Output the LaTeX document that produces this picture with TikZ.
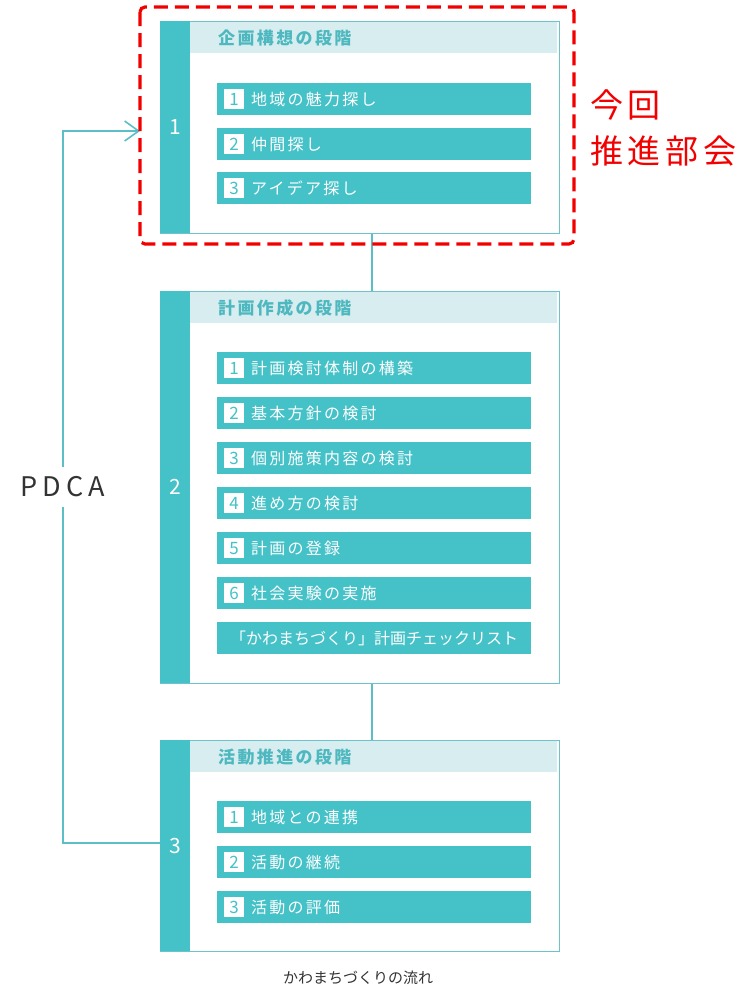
\documentclass[tikz,border=0pt]{standalone}
\usepackage{fontspec}
\setmainfont{Noto Sans CJK JP}
\newfontfamily\titlefont[LetterSpace=14]{Noto Sans CJK JP}
\newfontfamily\itemfont[LetterSpace=14]{Noto Sans CJK JP}
\newfontfamily\redfont[LetterSpace=14]{Noto Sans CJK JP}
\usetikzlibrary{arrows.meta}
\definecolor{tealmain}{HTML}{45C1C8}
\definecolor{headbg}{HTML}{D8EDEF}
\definecolor{titlecol}{HTML}{4DB8BF}
\definecolor{outl}{HTML}{6CC3C9}
\definecolor{linecol}{HTML}{5BBFC5}
\definecolor{hlred}{HTML}{F20000}
\definecolor{captxt}{HTML}{333333}
\newcommand\stageitem[4]{%
  \node[itembox] (#1) at (217,#2) {};
  \node[numsq] (#1n) at ([xshift=17pt]#1.west) {#3};
  \node[itemtext] (#1t) at ([xshift=34pt]#1.west) {#4};
}
\begin{document}
\begin{tikzpicture}[x=1pt,y=-1pt,
  stagebox/.style={draw=outl, line width=1.3pt, fill=white, minimum width=399pt, inner sep=0pt, anchor=north west},
  stagebar/.style={fill=tealmain, minimum width=30pt, inner sep=0pt, anchor=north west, text=white, font=\fontsize{21}{21}\selectfont},
  headband/.style={fill=headbg, minimum width=367pt, minimum height=31pt, inner sep=0pt, anchor=north west},
  stagetitle/.style={anchor=west, inner sep=0pt, text=titlecol, font=\titlefont\bfseries\fontsize{17}{17}\selectfont},
  itembox/.style={fill=tealmain, minimum width=314pt, minimum height=32pt, inner sep=0pt, anchor=north west},
  numsq/.style={fill=white, minimum width=20pt, minimum height=20pt, inner sep=0pt, text=tealmain, font=\fontsize{17}{17}\selectfont},
  itemtext/.style={anchor=west, inner sep=0pt, text=white, font=\itemfont\fontsize{16}{16}\selectfont},
  conn/.style={draw=linecol, line width=1.6pt},
  redtxt/.style={anchor=west, inner sep=0pt, text=hlred, font=\redfont\fontsize{33}{33}\selectfont}
]
\useasboundingbox (0,0) rectangle (753,988);

% ---------- stage 1
\node[stagebox, minimum height=212pt] (s1) at (160,21) {};
\node[stagebar, minimum height=212pt] (b1) at (160,21) {1};
\node[headband] (h1) at (190,22) {};
\node[stagetitle] (t1) at (218,38) {企画構想の段階};
\stageitem{i11}{83}{1}{地域の魅力探し}
\stageitem{i12}{128}{2}{仲間探し}
\stageitem{i13}{172}{3}{アイデア探し}

% ---------- stage 2
\node[stagebox, minimum height=392pt] (s2) at (160,291) {};
\node[stagebar, minimum height=392pt] (b2) at (160,291) {2};
\node[headband] (h2) at (190,292) {};
\node[stagetitle] (t2) at (218,308) {計画作成の段階};
\stageitem{i21}{352}{1}{計画検討体制の構築}
\stageitem{i22}{397}{2}{基本方針の検討}
\stageitem{i23}{442}{3}{個別施策内容の検討}
\stageitem{i24}{487}{4}{進め方の検討}
\stageitem{i25}{532}{5}{計画の登録}
\stageitem{i26}{577}{6}{社会実験の実施}
\node[itembox, text=white, font=\fontsize{16}{16}\selectfont] (i27) at (217,622) {「かわまちづくり」計画チェックリスト};

% ---------- stage 3
\node[stagebox, minimum height=211pt] (s3) at (160,740) {};
\node[stagebar, minimum height=211pt] (b3) at (160,740) {3};
\node[headband] (h3) at (190,741) {};
\node[stagetitle] (t3) at (218,757) {活動推進の段階};
\stageitem{i31}{801}{1}{地域との連携}
\stageitem{i32}{846}{2}{活動の継続}
\stageitem{i33}{891}{3}{活動の評価}

% ---------- connectors between stages
\coordinate (cx) at (372,0);
\draw[conn] (s1.south -| cx) -- (s2.north -| cx);
\draw[conn] (s2.south -| cx) -- (s3.north -| cx);

% ---------- PDCA loop
\coordinate (lp1) at (63,843);
\coordinate (lp2) at (63,131);
\coordinate (lpend) at (140,131);
\draw[conn, -{Straight Barb[length=14pt,width=20pt,line width=1.6pt]}] (s3.west |- lp1) -- (lp1) -- (lp2) -- (lpend);
\node[fill=white, inner xsep=2pt, inner ysep=0pt, minimum height=40pt, text=captxt, font=\fontsize{27}{27}\selectfont] (pdca) at (63,487) {P\hspace{5pt}D\hspace{5pt}C\hspace{5pt}A};

% ---------- highlight
\draw[hlred, line width=3.2pt, dash pattern=on 14pt off 7pt, rounded corners=5pt] (140,7) rectangle (574,244);
\node[redtxt] (r1) at (590,105) {今回};
\node[redtxt] (r2) at (590,151) {推進部会};

% ---------- caption
\node[text=captxt, font=\fontsize{15}{15}\selectfont] (cap) at (358,978) {かわまちづくりの流れ};
\end{tikzpicture}
\end{document}
